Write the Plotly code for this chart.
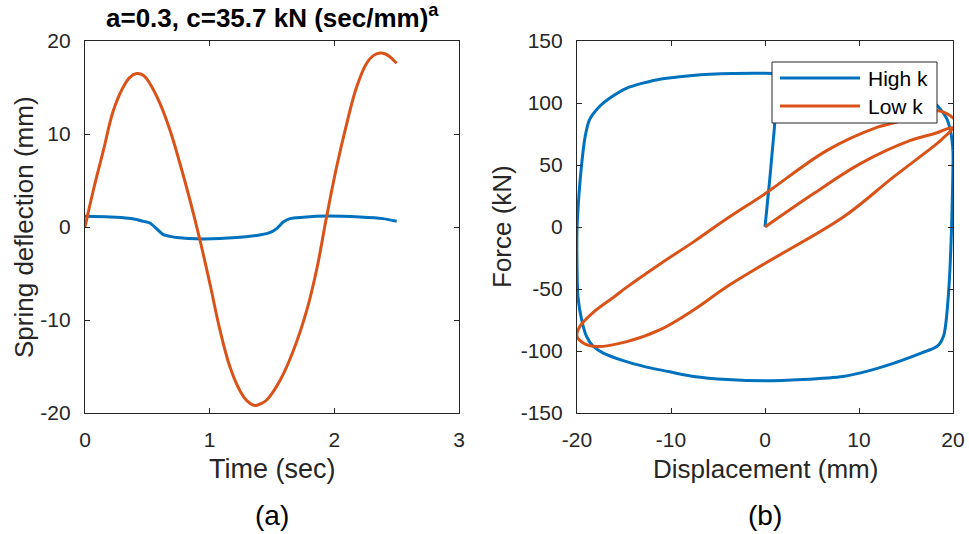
import plotly.graph_objects as go

# ---------------- data: (a) spring deflection vs time ----------------
time_low = [0, 0.067, 0.147, 0.227, 0.307, 0.36, 0.414, 0.47, 0.521, 0.601, 0.682, 0.762,
            0.842, 0.922, 1.002, 1.083, 1.163, 1.243, 1.30, 1.363, 1.41, 1.457, 1.564,
            1.671, 1.778, 1.858, 1.938, 2.018, 2.099, 2.179, 2.259, 2.31, 2.366, 2.41,
            2.446, 2.5]
defl_low = [0, 3.95, 8.2, 12.5, 15.05, 16.1, 16.5, 16.3, 15.4, 13.3, 10.4, 6.8,
            2.9, -1.4, -6.1, -11.1, -15.05, -17.6, -18.7, -19.2, -19.0, -18.6, -16.5,
            -13.3, -9.0, -4.6, 1.1, 6.45, 11.1, 15.05, 17.6, 18.4, 18.7, 18.6,
            18.3, 17.6]

time_high = [0, 0.2, 0.35, 0.414, 0.47, 0.52, 0.574, 0.628, 0.68, 0.735, 0.949, 1.216,
             1.40, 1.457, 1.50, 1.537, 1.59, 1.644, 1.75, 1.938, 2.205, 2.39, 2.5]
defl_high = [1.15, 1.08, 0.95, 0.8, 0.6, 0.43, -0.18, -0.82, -1.0, -1.14, -1.29, -1.14,
             -0.85, -0.71, -0.5, -0.18, 0.54, 0.9, 1.05, 1.18, 1.08, 0.9, 0.61]

# ---------------- data: (b) force vs displacement ----------------
disp_high = [0, 0.5, 1.0, 1.6, 5, 10, 14, 17, 18.3, 19.3, 19.8, 20, 19.95, 19.85, 19.7,
             19.5, 19.2, 19.0, 18.5, 17.9, 17.2, 15.5, 13.65, 11, 8.3, 4, 0, -4, -7.6,
             -10, -12.9, -15, -17.2, -18.3, -19.0, -19.5, -19.9, -20, -20, -19.8, -19.5,
             -19.2, -19.0, -18.7, -18.3, -17.5, -16.5, -14.7, -13, -11.2, -8, -5.85, 0,
             5, 10, 14, 17, 18.3, 19.3, 19.8, 20]
force_high = [0, 38, 80, 123, 122, 119, 113, 104, 98, 88, 75, 60, 30, 0, -30,
              -56, -80, -88, -95, -98, -100, -105, -110, -116, -120.5, -123, -124, -123, -120.5,
              -117, -112.4, -108, -101.7, -96, -88, -75, -56, -30, -3, 25, 51,
              70, 78, 86, 91, 98, 104, 112, 116, 119.2, 122, 123.2, 124,
              122, 119, 113, 104, 98, 88, 75, 62]

disp_low = [0, 5.14, 10.1, 15.4, 18.3, 19.5, 20, 19.7, 19.0, 18.26, 13.65, 8.33, 0, -4.07,
            -7.6, -11.2, -14.7, -17.9, -19.3, -20, -19.7, -18.3, -16, -14.7, -11.2, -7.6,
            -4, 0, 6.56, 11.9, 13.2, 16, 18.4, 19.3, 20.1]
force_low = [0, 26.8, 50.9, 69.6, 76, 79.5, 80, 77, 72, 67, 40.2, 8.0, -29.4, -48.2,
             -66.9, -83, -92.4, -96.4, -93.7, -88.3, -80.3, -69, -56, -48.5, -30, -12,
             7, 26.8, 61.6, 80.3, 83, 89, 93.7, 91.6, 87.5]

series_names = ["High k", "Low k"]
tick_a_x = [0, 1, 2, 3]
tick_a_y = [-20, -10, 0, 10, 20]
tick_b_x = [-20, -10, 0, 10, 20]
tick_b_y = [-150, -100, -50, 0, 50, 100, 150]

BLUE = "#0072BD"
ORANGE = "#D95319"
AX = "#262626"
FONT = "Liberation Sans"

W, H = 969, 534


def px(x):
    return x / W


def py(y):
    return 1 - y / H


fig = go.Figure()
fig.add_trace(go.Scatter(x=time_high, y=defl_high, mode="lines", name=series_names[0],
                         line=dict(color=BLUE, width=3, shape="spline", smoothing=0.8),
                         xaxis="x", yaxis="y", showlegend=False))
fig.add_trace(go.Scatter(x=time_low, y=defl_low, mode="lines", name=series_names[1],
                         line=dict(color=ORANGE, width=3, shape="spline", smoothing=1.1),
                         xaxis="x", yaxis="y", showlegend=False))
fig.add_trace(go.Scatter(x=disp_high, y=force_high, mode="lines", name=series_names[0],
                         line=dict(color=BLUE, width=3, shape="spline", smoothing=0.6),
                         xaxis="x2", yaxis="y2", showlegend=False))
fig.add_trace(go.Scatter(x=disp_low, y=force_low, mode="lines", name=series_names[1],
                         line=dict(color=ORANGE, width=3, shape="spline", smoothing=1.0),
                         xaxis="x2", yaxis="y2", showlegend=False))

axis_common = dict(showline=True, linecolor=AX, linewidth=1.2, mirror="ticks",
                   ticks="inside", ticklen=5, tickwidth=1.2, tickcolor=AX,
                   showgrid=False, zeroline=False, automargin=False,
                   tickfont=dict(family=FONT, size=21, color=AX))
xstand = dict(ticklabelstandoff=8)
ystand = dict(ticklabelstandoff=9)


def labels(vals):
    return [str(v) for v in vals]


fig.update_layout(
    width=W, height=H,
    margin=dict(l=0, r=0, t=0, b=0, autoexpand=False),
    paper_bgcolor="white", plot_bgcolor="white",
    xaxis=dict(domain=[px(85), px(459)], range=[0, 3], tickvals=tick_a_x,
               ticktext=labels(tick_a_x), anchor="y", **axis_common, **xstand),
    yaxis=dict(domain=[py(413), py(41)], range=[-20, 20], tickvals=tick_a_y,
               ticktext=labels(tick_a_y), anchor="x", **axis_common, **ystand),
    xaxis2=dict(domain=[px(577), px(953)], range=[-20, 20], tickvals=tick_b_x,
                ticktext=labels(tick_b_x), anchor="y2", **axis_common, **xstand),
    yaxis2=dict(domain=[py(413), py(41)], range=[-150, 150], tickvals=tick_b_y,
                ticktext=labels(tick_b_y), anchor="x2", **axis_common, **ystand),
    showlegend=False,
)

ann = [
    dict(text="<b>a=0.3, c=35.7 kN (sec/mm)<sup>a</sup></b>", x=px(272), y=py(17),
         font=dict(family=FONT, size=26, color="black")),
    dict(text="Time (sec)", x=px(272), y=py(469), font=dict(family=FONT, size=27, color=AX)),
    dict(text="Displacement (mm)", x=px(765), y=py(469), font=dict(family=FONT, size=26, color=AX)),
    dict(text="Spring deflection (mm)", x=px(24), y=py(227), textangle=-90,
         font=dict(family=FONT, size=26, color=AX)),
    dict(text="Force (kN)", x=px(502), y=py(227), textangle=-90,
         font=dict(family=FONT, size=26, color=AX)),
    dict(text="(a)", x=px(272), y=py(515), font=dict(family=FONT, size=28, color="black")),
    dict(text="(b)", x=px(765), y=py(515), font=dict(family=FONT, size=28, color="black")),
    dict(text=series_names[0], x=px(866), y=py(78), xanchor="left",
         font=dict(family=FONT, size=21, color="black")),
    dict(text=series_names[1], x=px(866), y=py(106), xanchor="left",
         font=dict(family=FONT, size=21, color="black")),
]
for a in ann:
    a.setdefault("xanchor", "center")
    a.update(xref="paper", yref="paper", yanchor="middle", showarrow=False)
fig.update_layout(annotations=ann)

shapes = [
    dict(type="rect", xref="paper", yref="paper", x0=px(772), x1=px(937), y0=py(123), y1=py(62),
         fillcolor="white", line=dict(color=AX, width=1), layer="above"),
    dict(type="line", xref="paper", yref="paper", x0=px(780), x1=px(860), y0=py(78), y1=py(78),
         line=dict(color=BLUE, width=3), layer="above"),
    dict(type="line", xref="paper", yref="paper", x0=px(780), x1=px(860), y0=py(106), y1=py(106),
         line=dict(color=ORANGE, width=3), layer="above"),
]
fig.update_layout(shapes=shapes)

fig.write_html("out.html", config={"displayModeBar": False},
               post_script="document.body.style.margin='0';document.body.style.padding='0';")
